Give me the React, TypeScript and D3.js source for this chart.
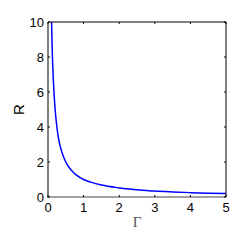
import React from 'react'
import * as d3 from 'd3'

const gammaVals = [0.1, 0.12, 0.15, 0.2, 0.25, 0.3, 0.4, 0.5, 0.6, 0.7, 0.8, 1, 1.2, 1.5, 2, 2.5, 3, 3.5, 4, 4.5, 5]
const rVals = [10, 8.3, 6.7, 5, 4, 3.3, 2.5, 2, 1.67, 1.43, 1.25, 1, 0.85, 0.68, 0.52, 0.42, 0.34, 0.29, 0.25, 0.22, 0.2]
const xTicks = [0, 1, 2, 3, 4, 5]
const yTicks = [0, 2, 4, 6, 8, 10]

export default function App() {
  const left = 48, right = 226, top = 22, bottom = 197
  const x = d3.scaleLinear().domain([0, 5]).range([left, right])
  const y = d3.scaleLinear().domain([0, 10]).range([bottom, top])
  const pts = gammaVals.map((g, i) => [g, rVals[i]] as [number, number])
  const line = d3.line<[number, number]>().x(d => x(d[0])).y(d => y(d[1])).curve(d3.curveMonotoneX)
  const font = 'Liberation Sans, Arial, sans-serif'

  return (
    <svg width={245} height={245} style={{ position: 'absolute', left: 0, top: 0, background: '#fff' }}>
      <path d={line(pts) || ''} fill="none" stroke="#0000ff" strokeWidth={1.5} />
      {/* box */}
      <line x1={left} x2={right} y1={top} y2={top} stroke="#000" strokeWidth={1} />
      <line x1={right} x2={right} y1={top} y2={bottom} stroke="#000" strokeWidth={1} />
      <line x1={left} x2={left} y1={top} y2={bottom + 1} stroke="#808080" strokeWidth={2} />
      <line x1={left} x2={right} y1={bottom} y2={bottom} stroke="#808080" strokeWidth={1.5} />
      {xTicks.map(t => (
        <g key={'x' + t}>
          <line x1={x(t)} x2={x(t)} y1={bottom} y2={bottom - 2} stroke="#000" />
          <line x1={x(t)} x2={x(t)} y1={top} y2={top + 2} stroke="#000" />
          <text x={x(t)} y={bottom + 15} textAnchor="middle" fontFamily={font} fontSize={13} fill="#000">{t}</text>
        </g>
      ))}
      {yTicks.map(t => (
        <g key={'y' + t}>
          <line x1={left} x2={left + 2} y1={y(t)} y2={y(t)} stroke="#000" />
          <line x1={right} x2={right - 2} y1={y(t)} y2={y(t)} stroke="#000" />
          <text x={left - 4} y={y(t) + 4.5} textAnchor="end" fontFamily={font} fontSize={13} fill="#000">{t}</text>
        </g>
      ))}
      <text x={0} y={0} transform={`translate(20,${(top + bottom) / 2}) rotate(-90)`} textAnchor="middle" dominantBaseline="middle" fontFamily={font} fontSize={15} fill="#000">R</text>
      <text x={(left + right) / 2} y={227} textAnchor="middle" fontFamily="Liberation Serif, Times New Roman, serif" fontSize={15} fill="#555">Γ</text>
    </svg>
  )
}
